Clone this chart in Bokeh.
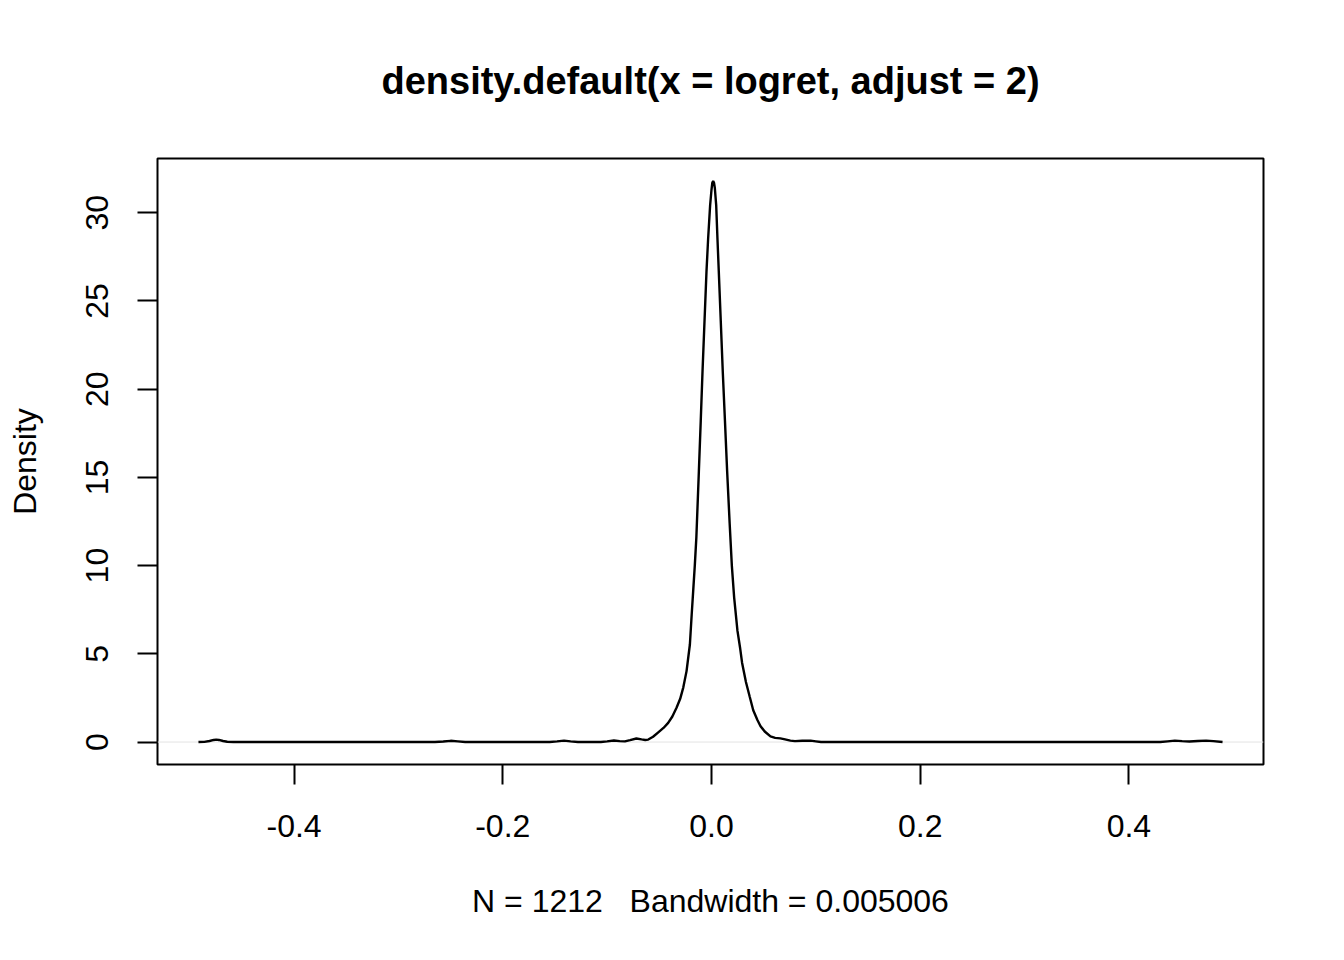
from bokeh.plotting import figure
from bokeh.models import FixedTicker, Range1d, Span
from bokeh.embed import file_html
from bokeh.resources import INLINE

# Data (x = log return, density)
dens_x = [
    -0.4916, -0.4860, -0.4810, -0.4770, -0.4746, -0.4720, -0.4680, -0.4640, -0.4580,
    -0.2650, -0.2570, -0.2500, -0.2430, -0.2360, -0.2300,
    -0.1550, -0.1480, -0.1413, -0.1350, -0.1280,
    -0.1060, -0.1000, -0.0935, -0.0880, -0.0830, -0.0780, -0.0720, -0.0670, -0.0635,
    -0.0606, -0.0560, -0.0510, -0.0460, -0.0415, -0.0375, -0.0335, -0.0300, -0.0270,
    -0.0239, -0.0207, -0.0190, -0.0175, -0.0160, -0.0145, -0.0121, -0.0103, -0.0086,
    -0.0067, -0.0048, -0.0032, -0.0013, 0.0000, 0.0008, 0.0016, 0.0024, 0.0032,
    0.0045, 0.0057, 0.0070, 0.0089, 0.0108, 0.0129, 0.0150, 0.0174, 0.0195, 0.0217,
    0.0249, 0.0275, 0.0293, 0.0330, 0.0367, 0.0400, 0.0440, 0.0470, 0.0510, 0.0565,
    0.0610, 0.0660, 0.0705, 0.0756, 0.0800, 0.0870, 0.0950, 0.1000, 0.1050,
    0.4300, 0.4370, 0.4440, 0.4510, 0.4580, 0.4660, 0.4740, 0.4810, 0.4897,
]
dens_y = [
    0.000, 0.010, 0.060, 0.120, 0.140, 0.120, 0.060, 0.015, 0.000,
    0.000, 0.030, 0.070, 0.040, 0.005, 0.000,
    0.000, 0.040, 0.080, 0.040, 0.000,
    0.000, 0.040, 0.090, 0.050, 0.040, 0.110, 0.200, 0.150, 0.120,
    0.140, 0.300, 0.550, 0.800, 1.090, 1.450, 1.940, 2.450, 3.100,
    4.020, 5.530, 7.200, 8.600, 10.000, 11.600, 15.340, 18.200, 21.000,
    23.830, 26.660, 28.550, 30.430, 31.300, 31.700, 31.800, 31.700, 31.400,
    30.430, 28.550, 26.660, 23.830, 21.000, 18.200, 15.340, 12.400, 10.000, 8.200,
    6.300, 5.300, 4.500, 3.400, 2.550, 1.800, 1.250, 0.900, 0.600, 0.320,
    0.240, 0.210, 0.150, 0.080, 0.050, 0.070, 0.080, 0.040, 0.000,
    0.000, 0.040, 0.080, 0.050, 0.030, 0.060, 0.080, 0.050, 0.000,
]
x_ticks = [-0.4, -0.2, 0.0, 0.2, 0.4]
x_tick_labels = ["-0.4", "-0.2", "0.0", "0.2", "0.4"]
y_ticks = [0, 5, 10, 15, 20, 25, 30]
title_text = "density.default(x = logret, adjust = 2)"
x_label = "N = 1212 \u00a0 Bandwidth = 0.005006"
y_label = "Density"

FONT = "Liberation Sans"

xmin, xmax = min(dens_x), max(dens_x)
xs = xmax - xmin
ymin, ymax = 0.0, max(dens_y)
ys = ymax - ymin

p = figure(
    frame_width=1106, frame_height=606,
    min_border_left=157, min_border_right=73,
    min_border_top=157, min_border_bottom=180,
    x_range=Range1d(xmin - 0.04 * xs, xmax + 0.04 * xs),
    y_range=Range1d(ymin - 0.04 * ys, ymax + 0.04 * ys),
    output_backend="svg", toolbar_location=None,
    title=title_text,
)
p.background_fill_color = "white"
p.border_fill_color = "white"
p.outline_line_color = "black"
p.outline_line_width = 2
p.grid.visible = False

p.title.align = "center"
p.title.text_font = FONT
p.title.text_font_size = "38px"
p.title.text_font_style = "bold"
p.title.text_color = "black"
p.title.standoff = 114

zero = Span(location=0, dimension="width", line_color="#e3e3e3", line_width=1, level="underlay")
p.add_layout(zero)

p.line(dens_x, dens_y, line_color="black", line_width=2.4)

for ax in (p.xaxis[0], p.yaxis[0]):
    ax.axis_line_color = None
    ax.major_tick_line_color = "black"
    ax.major_tick_line_width = 2
    ax.major_tick_in = 0
    ax.major_tick_out = 20
    ax.minor_tick_line_color = None
    ax.major_label_text_font = FONT
    ax.major_label_text_font_size = "32px"
    ax.major_label_text_color = "black"
    ax.axis_label_text_font = FONT
    ax.axis_label_text_font_size = "32px"
    ax.axis_label_text_font_style = "normal"
    ax.axis_label_text_color = "black"

p.xaxis.ticker = FixedTicker(ticks=x_ticks)
p.xaxis.major_label_overrides = {t: l for t, l in zip(x_ticks, x_tick_labels)}
p.xaxis.major_label_standoff = 30
p.xaxis.axis_label = x_label
p.xaxis.axis_label_standoff = 43

p.yaxis.ticker = FixedTicker(ticks=y_ticks)
p.yaxis.major_label_orientation = "vertical"
p.yaxis.major_label_standoff = 29
p.yaxis.axis_label = y_label
p.yaxis.axis_label_standoff = 41

open("out.html", "w").write(file_html(p, INLINE))
